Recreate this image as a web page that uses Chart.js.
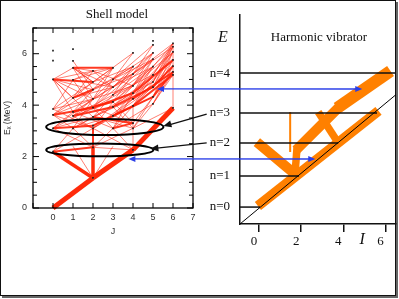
<!DOCTYPE html>
<html><head><meta charset="utf-8">
<script src="https://cdn.jsdelivr.net/npm/chart.js@4"></script>
<style>
html,body{margin:0;padding:0;background:#fff;}
#wrap{position:relative;width:399px;height:299px;overflow:hidden;background:#fff;}
#frame{position:absolute;left:0;top:0;width:394px;height:294px;border:1.5px solid #111;box-shadow:2px 2px 0 #666;}
canvas{position:absolute;left:0;top:0;}
</style></head><body>
<div id="wrap"><div id="frame"></div>
<canvas id="c1" width="399" height="299"></canvas>
<canvas id="c2" width="399" height="299"></canvas>
</div>
<script>
// ===== Shell model (left panel) =====
const shellLevels = [
  [0, 2.19, 3.1, 3.62, 3.85, 5.0, 5.73, 6.12],              // J=0
  [3.1, 3.58, 3.74, 4.28, 4.98, 5.45, 5.72, 6.18],           // J=1
  [1.17, 2.36, 3.1, 3.2, 3.54, 3.9, 4.24, 4.6, 4.9, 5.33],   // J=2
  [3.1, 3.58, 3.93, 4.13, 4.4, 4.7, 5.0, 5.45],              // J=3
  [2.26, 3.1, 3.3, 3.97, 4.24, 4.47, 4.75, 5.21, 5.5, 6.03], // J=4
  [4.05, 4.32, 4.7, 4.9, 5.18, 5.5, 5.79, 6.03, 6.34, 6.5],  // J=5
  [3.89, 5.18, 5.29, 5.52, 5.76, 6.07, 6.27, 6.4, 6.93]      // J=6
];
// transitions [J1, E1, J2, E2]
const strongTransitions = [[0,0,2,1.17],[2,1.17,4,2.26],[4,2.26,6,3.89]];
const mediumStrongTransitions = [[2,1.17,0,2.19],[2,1.17,2,2.36]];
const mediumTransitions = [
  [0,5.0,2,4.9],[1,5.45,3,5.45],[1,3.74,3,4.13],[2,3.2,4,3.97],[3,3.58,5,4.32],
  [4,3.97,6,5.18],[4,4.24,6,5.29],[5,4.7,6,5.52],[2,3.9,4,4.47],[0,3.1,2,3.2],
  [1,3.58,3,3.93],[3,3.93,5,4.7],[2,2.36,2,3.1],[0,2.19,2,2.36],[1,4.28,2,4.6],
  [3,3.1,4,3.3],[0,3.62,2,3.9],[2,3.54,4,3.3],[4,4.47,6,5.76],[5,4.32,6,5.29]
];
const weakTransitions = [
  [0,2.19,2,3.1],[0,2.19,1,3.1],[2,2.36,0,3.1],[2,2.36,1,3.1],[2,2.36,3,3.1],[2,2.36,4,3.1],
  [2,2.36,4,2.26],[2,1.17,1,2.4],[2,1.17,3,2.4],[4,2.26,2,3.1],[4,2.26,3,3.1],[4,2.26,4,3.97],
  [0,3.1,2,3.54],[0,3.1,1,3.74],[0,3.1,2,3.9],[0,3.1,2,4.24],
  [1,3.1,2,3.54],[1,3.1,3,3.58],[1,3.1,3,3.93],[1,3.1,0,3.62],[1,3.1,2,4.24],
  [2,3.1,0,3.85],[2,3.1,1,3.58],[2,3.1,3,3.58],[2,3.1,4,3.97],[2,3.1,3,4.13],[2,3.1,4,4.24],[2,3.1,0,3.62],
  [3,3.1,1,3.74],[3,3.1,2,3.9],[3,3.1,4,3.97],[3,3.1,5,4.05],[3,3.1,4,4.47],
  [4,3.1,2,3.54],[4,3.1,3,3.93],[4,3.1,5,4.05],[4,3.1,6,3.89],[4,3.1,5,4.32],
  [4,3.3,2,3.9],[4,3.3,3,4.13],[4,3.3,5,4.32],
  [0,3.62,2,4.24],[0,3.62,1,4.28],[0,3.62,2,4.6],
  [0,3.85,2,4.24],[0,3.85,1,4.98],[0,3.85,2,4.9],
  [1,3.58,3,4.13],[1,3.58,2,4.24],[1,3.58,3,4.4],
  [1,3.74,2,4.6],[1,3.74,3,4.7],[1,3.74,0,5.0],
  [1,4.28,3,4.7],[1,4.28,2,4.9],[1,4.28,3,5.0],[1,4.28,0,5.0],[1,4.28,2,5.33],
  [2,3.54,4,4.24],[2,3.54,3,4.4],[2,3.54,4,4.47],[2,3.54,0,5.0],
  [2,3.9,4,4.75],[2,3.9,3,4.7],[2,3.9,1,4.98],[2,3.9,3,5.0],[2,3.9,4,5.21],
  [2,4.24,4,4.75],[2,4.24,3,5.0],[2,4.24,4,5.21],[2,4.24,1,5.45],[2,4.24,3,5.45],
  [2,4.6,4,5.21],[2,4.6,3,5.45],[2,4.6,4,5.5],[2,4.6,1,5.72],
  [2,4.9,4,5.5],[2,4.9,3,5.45],[2,4.9,4,6.03],[2,4.9,1,5.45],
  [3,3.58,5,4.32],[3,3.58,4,4.47],[3,3.58,5,4.7],[3,3.58,4,4.24],
  [3,3.93,4,4.75],[3,3.93,5,4.9],[3,3.93,5,5.18],
  [3,4.13,5,4.9],[3,4.13,4,5.21],[3,4.13,5,5.5],[3,4.13,4,4.75],
  [3,4.4,5,5.18],[3,4.4,4,5.5],[3,4.4,5,5.5],[3,4.4,5,5.79],
  [3,4.7,5,5.5],[3,4.7,4,5.5],[3,4.7,5,5.79],[3,4.7,5,6.03],
  [3,5.0,5,5.79],[3,5.0,4,6.03],[3,5.0,5,6.03],[3,5.0,5,6.34],
  [4,3.97,5,4.9],[4,3.97,6,5.52],[4,3.97,5,5.18],
  [4,4.24,5,5.18],[4,4.24,6,5.76],[4,4.24,5,5.5],
  [4,4.47,5,5.5],[4,4.47,6,6.07],[4,4.47,5,5.79],
  [4,4.75,6,6.07],[4,4.75,5,5.79],[4,4.75,6,6.27],[4,4.75,5,6.03],
  [4,5.21,6,6.27],[4,5.21,5,6.03],[4,5.21,6,6.4],[4,5.21,5,6.34],
  [5,4.05,6,5.18],[5,4.05,6,5.29],[5,4.05,6,5.52],
  [5,4.32,6,5.52],[5,4.32,6,5.76],[5,4.32,6,6.07],
  [5,4.7,6,5.76],[5,4.7,6,6.07],[5,4.7,6,6.27],
  [5,4.9,6,6.07],[5,4.9,6,6.27],[5,4.9,6,6.4],
  [5,5.18,6,6.27],[5,5.18,6,6.4],[5,5.5,6,6.4],
  [0,5.0,2,5.33],[0,5.0,1,5.45],[0,5.0,2,4.6],[0,5.0,2,4.24],[1,4.98,2,5.33],[1,4.98,3,5.45],
  [1,4.98,3,4.7],[1,5.45,2,4.9],[1,5.45,2,5.33],[1,5.45,3,4.7],[2,5.33,3,5.45],[2,5.33,3,4.7],
  [2,5.33,4,4.75],[6,3.89,6,6.4]
];
const shellXTicks = [0,1,2,3,4,5,6,7];
const shellYTicks = [0,2,4,6];
// ellipses marking level groups [J centre, E centre, J half-width, E half-height]
const ellipseCentreJ = [2.59, 2.34];
const ellipseCentreE = [3.15, 2.26];
const ellipseHalfJ = [2.93, 2.68];
const ellipseHalfE = [0.31, 0.25];

// ===== Harmonic vibrator (right panel) =====
const vibLevelE = [0.81, 2.30, 3.88, 5.31, 7.22];
const vibLevelEnd = [0.05, 1.90, 3.76, 5.60, 6.5];
const vibLevelLabels = ['n=0','n=1','n=2','n=3','n=4'];
const vibXTicks = [0,2,4,6];
const diagonalI = [-0.9, 6.5];
const diagonalE = [0, 6.19];
// orange bands [I1, E1, I2, E2]
const bandsWidest = [[3.71,5.55,6.24,7.32]];
const bandsWide = [[-0.05,0.86,5.67,5.41],[1.76,3.54,3.86,5.65],[-0.10,3.92,1.71,2.39]];
const bandsMid = [[2.81,5.36,3.67,4.02],[1.71,2.39,1.81,3.73]];
const bandsThin = [[1.48,5.36,1.48,3.44]];

// ===== connecting arrows =====
const blueFromShell = [[5.2,4.63],[3.77,1.91]];
const blueToVib = [[4.9,6.46],[2.67,3.11]];
const blackTailVib = [[-2.48,5.26],[-2.48,3.88]];
const blackTipShell = [[5.52,3.19],[4.87,2.30]];

const RED = '#ff2a0a';
function segs(list, color, width){
  return list.map(s => ({
    data:[{x:s[0],y:s[1]},{x:s[2],y:s[3]}],
    showLine:true, borderColor:color, borderWidth:width,
    pointRadius:0, borderCapStyle:'butt', tension:0, clip:false
  }));
}
const dotData = [];
shellLevels.forEach((arr,j)=>arr.forEach(e=>dotData.push({x:j,y:e})));

function zeroPad(s){ s.paddingTop=0; s.paddingBottom=0; s.paddingLeft=0; s.paddingRight=0; }

const shellFrame = {
  id:'shellFrame',
  afterDatasetsDraw(chart){
    const {ctx, chartArea:ca, scales:{x,y}} = chart;
    ctx.save();
    ctx.strokeStyle='#000'; ctx.lineWidth=2;
    for(let i=0;i<ellipseCentreJ.length;i++){
      const cx=x.getPixelForValue(ellipseCentreJ[i]), cy=y.getPixelForValue(ellipseCentreE[i]);
      const rx=Math.abs(x.getPixelForValue(ellipseCentreJ[i]+ellipseHalfJ[i])-cx);
      const ry=Math.abs(y.getPixelForValue(ellipseCentreE[i]+ellipseHalfE[i])-cy);
      ctx.beginPath(); ctx.ellipse(cx,cy,rx,ry,0,0,Math.PI*2); ctx.stroke();
    }
    ctx.lineWidth=1.3; ctx.strokeStyle='#000';
    ctx.strokeRect(ca.left,ca.top,ca.right-ca.left,ca.bottom-ca.top);
    ctx.lineWidth=1;
    ctx.beginPath();
    for(let v=x.min; v<=x.max+1e-6; v+=1){
      const px=x.getPixelForValue(v);
      ctx.moveTo(px,ca.bottom); ctx.lineTo(px,ca.bottom-5);
      ctx.moveTo(px,ca.top); ctx.lineTo(px,ca.top+5);
    }
    for(let v=y.min; v<=y.max+1e-6; v+=0.5){
      const py=y.getPixelForValue(v);
      const len = (v%2===0)?6:4;
      ctx.moveTo(ca.left,py); ctx.lineTo(ca.left+len,py);
      ctx.moveTo(ca.right,py); ctx.lineTo(ca.right-len,py);
    }
    ctx.stroke();
    ctx.fillStyle='#111';
    ctx.font='13px "Liberation Serif", "DejaVu Serif", serif';
    ctx.textAlign='center'; ctx.textBaseline='middle';
    ctx.fillText('Shell model',(ca.left+ca.right)/2+4, ca.top-13);
    ctx.restore();
  }
};

const leftChart = new Chart(document.getElementById('c1'), {
  type:'scatter',
  data:{datasets:[
    {data:dotData, pointStyle:'rect', pointRadius:1.2, backgroundColor:'#222', borderWidth:0, showLine:false},
    ...segs(strongTransitions, RED, 5),
    ...segs(mediumStrongTransitions, RED, 3.5),
    ...segs(mediumTransitions, 'rgba(255,35,10,0.9)', 2),
    ...segs(weakTransitions, 'rgba(255,40,20,0.7)', 0.85)
  ]},
  options:{
    responsive:false, animation:false, events:[],
    layout:{padding:{left:0,top:28,right:206,bottom:59}},
    plugins:{legend:{display:false},tooltip:{enabled:false}},
    scales:{
      x:{type:'linear', min:-1, max:7,
        afterBuildTicks:s=>{ s.ticks = shellXTicks.map(v=>({value:v})); },
        ticks:{autoSkip:false, maxRotation:0, padding:4, color:'#333', font:{family:'"Liberation Sans", Arial, sans-serif', size:9}},
        grid:{display:false, drawTicks:false}, border:{display:false},
        title:{display:true, text:'J', color:'#333', font:{family:'"Liberation Sans", Arial, sans-serif', size:9}, padding:{top:0,bottom:3}},
        afterFit:s=>{ s.height=32; zeroPad(s); }
      },
      y:{type:'linear', min:0, max:7,
        afterBuildTicks:s=>{ s.ticks = shellYTicks.map(v=>({value:v})); },
        ticks:{padding:6, color:'#333', font:{family:'"Liberation Sans", Arial, sans-serif', size:9}},
        grid:{display:false, drawTicks:false}, border:{display:false},
        title:{display:true, text:'Eₓ (MeV)', color:'#333', font:{family:'"Liberation Sans", "DejaVu Sans", sans-serif', size:8.5}, padding:{top:3,bottom:0}},
        afterFit:s=>{ s.width=33; zeroPad(s); }
      }
    }
  },
  plugins:[shellFrame]
});

function drawArrowHead(ctx, x1,y1,x2,y2, len, half){
  const a=Math.atan2(y2-y1,x2-x1);
  ctx.beginPath();
  ctx.moveTo(x2,y2);
  ctx.lineTo(x2-len*Math.cos(a)+half*Math.sin(a), y2-len*Math.sin(a)-half*Math.cos(a));
  ctx.lineTo(x2-len*Math.cos(a)-half*Math.sin(a), y2-len*Math.sin(a)+half*Math.cos(a));
  ctx.closePath(); ctx.fill();
}

const vibOverlay = {
  id:'vibOverlay',
  afterDraw(chart){
    const {ctx, chartArea:ca, scales:{x,y}} = chart;
    const lx = leftChart.scales.x, ly = leftChart.scales.y;
    ctx.save();
    ctx.fillStyle='#111'; ctx.textBaseline='middle';
    ctx.font='italic 16px "Liberation Serif", "DejaVu Serif", serif';
    ctx.textAlign='center';
    ctx.fillText('E', ca.left-17, ca.top+23);
    ctx.font='13px "Liberation Serif", "DejaVu Serif", serif';
    ctx.fillText('Harmonic vibrator', ca.left+79, ca.top+23);
    ctx.font='italic 16px "Liberation Serif", "DejaVu Serif", serif';
    ctx.fillText('I', x.getPixelForValue(4.9), ca.bottom+16);
    ctx.strokeStyle='#2a3ee8'; ctx.fillStyle='#2a3ee8'; ctx.lineWidth=1.3;
    for(let i=0;i<blueFromShell.length;i++){
      const x1=lx.getPixelForValue(blueFromShell[i][0]), y1=ly.getPixelForValue(blueFromShell[i][1]);
      const x2=x.getPixelForValue(blueToVib[i][0]), y2=y.getPixelForValue(blueToVib[i][1]);
      ctx.beginPath(); ctx.moveTo(x1+5,y1); ctx.lineTo(x2-5,y2); ctx.stroke();
      drawArrowHead(ctx,x2,y2,x1,y1,7,3);
      drawArrowHead(ctx,x1,y1,x2,y2,7,3);
    }
    ctx.strokeStyle='#111'; ctx.fillStyle='#111'; ctx.lineWidth=1.3;
    for(let i=0;i<blackTailVib.length;i++){
      const x1=x.getPixelForValue(blackTailVib[i][0]), y1=y.getPixelForValue(blackTailVib[i][1]);
      const x2=lx.getPixelForValue(blackTipShell[i][0]), y2=ly.getPixelForValue(blackTipShell[i][1]);
      ctx.beginPath(); ctx.moveTo(x1,y1); ctx.lineTo(x2+4,y2-0.5); ctx.stroke();
      drawArrowHead(ctx,x1,y1,x2,y2,8,3.5);
    }
    ctx.restore();
  }
};

const ORANGE = '#ff8000';
const rightChart = new Chart(document.getElementById('c2'), {
  type:'scatter',
  data:{datasets:[
    {data:[{x:diagonalI[0],y:diagonalE[0]},{x:diagonalI[1],y:diagonalE[1]}], showLine:true, borderColor:'#000', borderWidth:1, pointRadius:0},
    ...vibLevelE.map((e,i)=>({data:[{x:-0.9,y:e},{x:vibLevelEnd[i],y:e}], showLine:true, borderColor:'#111', borderWidth:1.5, pointRadius:0})),
    ...segs(bandsThin, ORANGE, 2),
    ...segs(bandsMid, ORANGE, 7.5),
    ...segs(bandsWide, ORANGE, 10),
    ...segs(bandsWidest, ORANGE, 12)
  ]},
  options:{
    responsive:false, animation:false, events:[],
    layout:{padding:{left:200,top:15,right:3,bottom:45}},
    plugins:{legend:{display:false},tooltip:{enabled:false}},
    scales:{
      x:{type:'linear', min:-0.9, max:6.5,
        afterBuildTicks:s=>{ s.ticks = vibXTicks.map(v=>({value:v})); },
        ticks:{autoSkip:false, maxRotation:0, padding:2, labelOffset:-5, color:'#111', font:{family:'"Liberation Serif", "DejaVu Serif", serif', size:13}},
        grid:{display:true, drawOnChartArea:false, drawTicks:true, tickLength:8, color:'#111', lineWidth:1.5},
        border:{display:true, color:'#111', width:1.5},
        afterFit:s=>{ s.height=30; zeroPad(s); }
      },
      y:{type:'linear', min:0, max:10,
        afterBuildTicks:s=>{ s.ticks = vibLevelE.map(v=>({value:v})); },
        ticks:{padding:10, color:'#111', callback:(v,i)=>vibLevelLabels[i], font:{family:'"Liberation Serif", "DejaVu Serif", serif', size:13}},
        grid:{display:false, drawTicks:false},
        border:{display:true, color:'#111', width:1.5},
        afterFit:s=>{ s.width=40; zeroPad(s); }
      }
    }
  },
  plugins:[vibOverlay]
});
</script>
</body></html>
